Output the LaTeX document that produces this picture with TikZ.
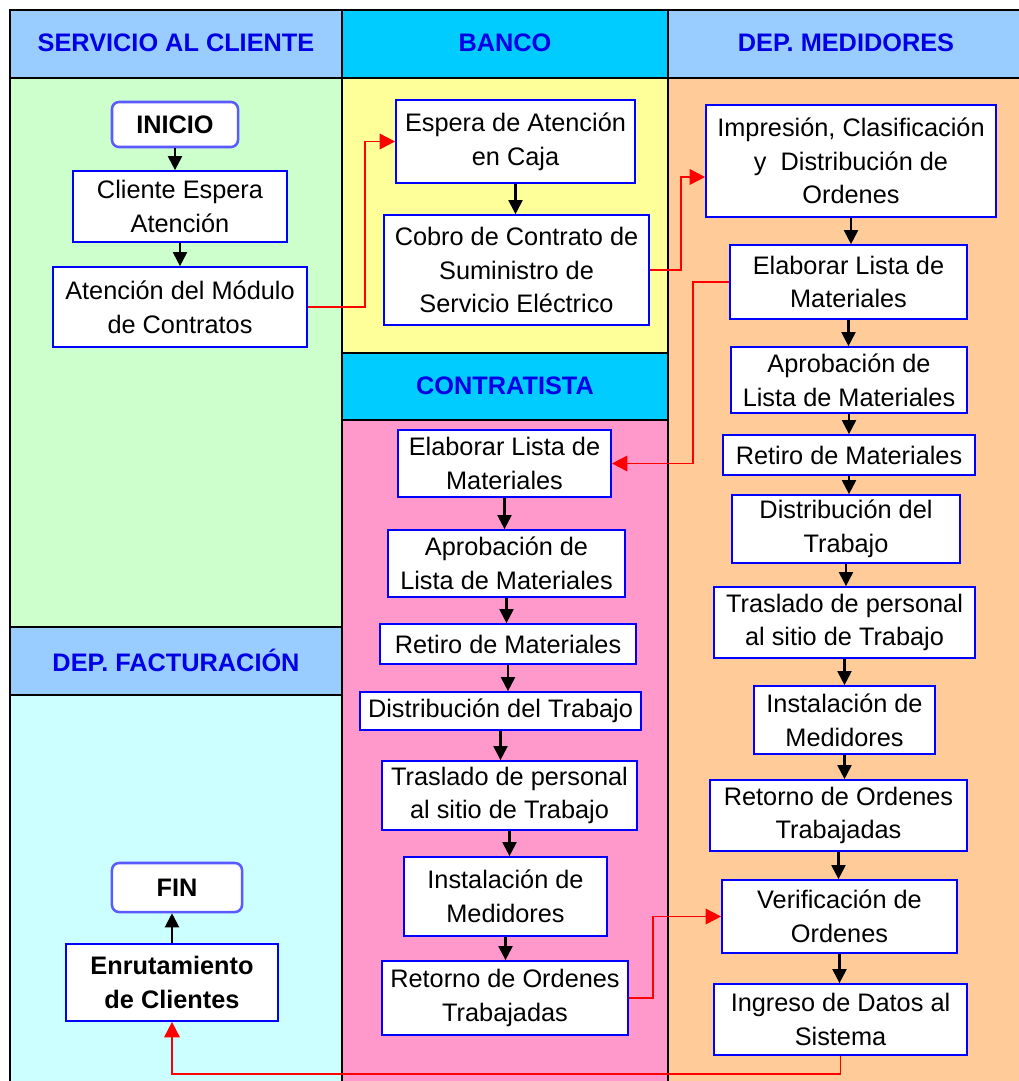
\documentclass[tikz,border=0pt]{standalone}
\usepackage{fontspec}
\setmainfont{Liberation Sans}
\usetikzlibrary{arrows.meta}

\definecolor{hdrblue}{RGB}{153,204,255}
\definecolor{hdrcyan}{RGB}{0,204,255}
\definecolor{lanegreen}{RGB}{204,255,204}
\definecolor{laneyellow}{RGB}{255,255,153}
\definecolor{lanepink}{RGB}{255,153,204}
\definecolor{laneorange}{RGB}{255,204,153}
\definecolor{lanecyan}{RGB}{204,255,255}
\definecolor{boxblue}{RGB}{0,0,255}
\definecolor{titleblue}{RGB}{0,0,230}
\definecolor{termblue}{RGB}{90,90,255}

\tikzset{
  lane/.style={draw=black,line width=2pt},
  title/.style={text=titleblue,font=\fontsize{18}{22}\selectfont\bfseries},
  task/.style={draw=boxblue,fill=white,line width=1.2pt,align=center,inner sep=2pt,
    font=\fontsize{18}{24}\selectfont},
  term/.style={task,draw=termblue,rounded corners=5pt,line width=1.8pt,
    font=\fontsize{18}{24}\selectfont\bfseries},
  flow/.style={line width=1.5pt,-{Triangle[length=10pt,width=10pt]}},
  link/.style={red,line width=1.4pt,-{Triangle[length=11pt,width=11pt]}}
}

\begin{document}
\begin{tikzpicture}[x=0.025cm,y=-0.025cm]
\clip (0,0) rectangle (1019,1081);
\fill[white] (0,0) rectangle (1019,1081);

\filldraw[lane,fill=hdrblue] (10,10) rectangle (342,78);
\filldraw[lane,fill=lanegreen] (10,78) rectangle (342,627);
\filldraw[lane,fill=hdrblue] (10,627) rectangle (342,695);
\filldraw[lane,fill=lanecyan] (10,695) rectangle (342,1095);
\filldraw[lane,fill=hdrcyan] (342,10) rectangle (668,78);
\filldraw[lane,fill=laneyellow] (342,78) rectangle (668,353);
\filldraw[lane,fill=hdrcyan] (342,353) rectangle (668,420);
\filldraw[lane,fill=lanepink] (342,420) rectangle (668,1095);
\filldraw[lane,fill=hdrblue] (668,10) rectangle (1035,78);
\filldraw[lane,fill=laneorange] (668,78) rectangle (1035,1095);

\node[title] (tcliente) at (176,43) {SERVICIO AL CLIENTE};
\node[title] (tbanco) at (505,43) {BANCO};
\node[title] (tmedidores) at (846,43) {DEP. MEDIDORES};
\node[title] (tcontratista) at (505,386) {CONTRATISTA};
\node[title] (tfacturacion) at (176,660) {DEP. FACTURACIÓN};

\node[term,minimum width=3.15cm,minimum height=1.125cm] (inicio) at (175,124.5) {INICIO};
\node[task,minimum width=5.35cm,minimum height=1.775cm] (cliente) at (180,206.5)
  {Cliente Espera\\Atención};
\node[task,minimum width=6.35cm,minimum height=2cm] (modulo) at (180,307)
  {Atención del Módulo\\de Contratos};

\node[task,minimum width=5.975cm,minimum height=2.075cm] (caja) at (515.5,141.5)
  {Espera de Atención\\en Caja};
\node[task,minimum width=6.625cm,minimum height=2.75cm] (cobro) at (516.5,270)
  {Cobro de Contrato de\\Suministro de\\Servicio Eléctrico};

\node[task,minimum width=7.25cm,minimum height=2.8cm] (impresion) at (851,161)
  {Impresión, Clasificación\\y~ Distribución de\\Ordenes};
\node[task,minimum width=5.925cm,minimum height=1.85cm] (listam) at (848.5,282)
  {Elaborar Lista de\\Materiales};
\node[task,minimum width=5.9cm,minimum height=1.65cm] (aprobm) at (849,380)
  {Aprobación de\\Lista de Materiales};
\node[task,minimum width=6.3cm,minimum height=1cm] (retirom) at (849,455)
  {Retiro de Materiales};
\node[task,minimum width=5.7cm,minimum height=1.7cm] (distm) at (846,529)
  {Distribución del\\Trabajo};
\node[task,minimum width=6.525cm,minimum height=1.775cm] (traslm) at (844.5,622.5)
  {Traslado de personal\\al sitio de Trabajo};
\node[task,minimum width=4.525cm,minimum height=1.7cm] (instm) at (844.5,720)
  {Instalación de\\Medidores};
\node[task,minimum width=6.425cm,minimum height=1.775cm] (retornom) at (838.5,815.5)
  {Retorno de Ordenes\\Trabajadas};
\node[task,minimum width=5.875cm,minimum height=1.825cm] (verif) at (839.5,916.5)
  {Verificación de\\Ordenes};
\node[task,minimum width=6.325cm,minimum height=1.775cm] (ingreso) at (840.5,1019.5)
  {Ingreso de Datos al\\Sistema};

\node[task,minimum width=5.325cm,minimum height=1.675cm] (listac) at (504.5,463.5)
  {Elaborar Lista de\\Materiales};
\node[task,minimum width=5.925cm,minimum height=1.675cm] (aprobc) at (506.5,563.5)
  {Aprobación de\\Lista de Materiales};
\node[task,minimum width=6.4cm,minimum height=1cm] (retiroc) at (508,644)
  {Retiro de Materiales};
\node[task,minimum width=7.025cm,minimum height=0.95cm] (distc) at (500.5,711)
  {Distribución del Trabajo};
\node[task,minimum width=6.375cm,minimum height=1.725cm] (traslc) at (509.5,795.5)
  {Traslado de personal\\al sitio de Trabajo};
\node[task,minimum width=5.075cm,minimum height=1.975cm] (instc) at (505.5,896.5)
  {Instalación de\\Medidores};
\node[task,minimum width=6.15cm,minimum height=1.85cm] (retornoc) at (505,998)
  {Retorno de Ordenes\\Trabajadas};

\node[term,minimum width=3.25cm,minimum height=1.225cm] (fin) at (177,887.5) {FIN};
\node[task,font=\fontsize{18}{24}\selectfont\bfseries,minimum width=5.3cm,minimum height=1.925cm]
  (enrut) at (172,982.5) {Enrutamiento\\de Clientes};

\draw[flow] (inicio.south) -- (inicio.south |- cliente.north);
\draw[flow] (cliente.south) -- (cliente.south |- modulo.north);
\draw[flow] (caja.south) -- (caja.south |- cobro.north);
\draw[flow] (impresion.south) -- (impresion.south |- listam.north);
\draw[flow] (listam.south) -- (listam.south |- aprobm.north);
\draw[flow] (aprobm.south) -- (aprobm.south |- retirom.north);
\draw[flow] (retirom.south) -- (retirom.south |- distm.north);
\draw[flow] (distm.south) -- (distm.south |- traslm.north);
\draw[flow] (traslm.south) -- (traslm.south |- instm.north);
\draw[flow] (instm.south) -- (instm.south |- retornom.north);
\draw[flow] (retornom.south) -- (retornom.south |- verif.north);
\draw[flow] (verif.south) -- (verif.south |- ingreso.north);
\draw[flow] (listac.south) -- (listac.south |- aprobc.north);
\draw[flow] (aprobc.south) -- (aprobc.south |- retiroc.north);
\draw[flow] (retiroc.south) -- (retiroc.south |- distc.north);
\draw[flow] (distc.south) -- (distc.south |- traslc.north);
\draw[flow] (traslc.south) -- (traslc.south |- instc.north);
\draw[flow] (instc.south) -- (instc.south |- retornoc.north);
\draw[flow] (enrut.north) -- (enrut.north |- fin.south);

\draw[link] (modulo.east) -- ++(57,0) |- (caja.west);
\draw[link] (cobro.east) -- ++(31,0) |- ([yshift=-0.4cm]impresion.west);
\draw[link] (listam.west) -- ++(-36,0) |- (listac.east);
\draw[link] (retornoc.east) -- ++(24,0) |- (verif.west);
\draw[link] (ingreso.south) -- ++(0,18) -| (enrut.south);
\end{tikzpicture}
\end{document}
